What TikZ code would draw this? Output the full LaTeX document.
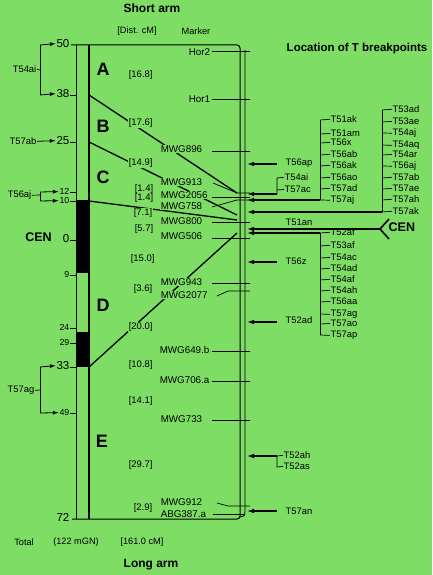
\documentclass[tikz,border=0pt]{standalone}
\usepackage{fontspec}
\setmainfont{Liberation Sans}
\usetikzlibrary{arrows.meta}
\definecolor{bg}{RGB}{125,221,100}
\tikzset{
 mk/.style={anchor=mid west, inner sep=0.6pt, fill=bg, font=\fontsize{9.8}{10}\selectfont},
 dl/.style={anchor=mid west, inner sep=0.6pt, fill=bg, font=\fontsize{9.5}{10}\selectfont},
 tl/.style={anchor=mid west, inner sep=0.5pt, font=\fontsize{9.4}{10}\selectfont},
 tr/.style={anchor=mid east, inner sep=0.5pt, font=\fontsize{9.4}{10}\selectfont},
 nb/.style={anchor=mid east, inner sep=0.5pt, font=\fontsize{11.5}{12}\selectfont},
 ns/.style={anchor=mid east, inner sep=0.5pt, font=\fontsize{8.8}{9}\selectfont},
 hd/.style={inner sep=0.5pt, font=\fontsize{9.2}{10}\selectfont},
 bhd/.style={inner sep=0.5pt, font=\fontsize{12}{12}\selectfont\bfseries},
 reg/.style={inner sep=0pt, font=\fontsize{18}{18}\selectfont\bfseries},
 seg/.style={line width=1.3pt},
 thn/.style={line width=0.7pt},
 arr/.style={line width=1.2pt, -{Latex[length=7pt,width=4.5pt]}},
 larr/.style={line width=0.8pt, -{Latex[length=6pt,width=4pt]}},
}
\begin{document}
\begin{tikzpicture}[x=1pt,y=-1pt]
\fill[bg] (0,0) rectangle (432,575);
\useasboundingbox (0,0) rectangle (432,575);

% ---------- left bar ----------
\fill[black] (76,200) rectangle (89,273);
\fill[black] (76,332) rectangle (89,367);
\draw[thn] (76,45) -- (76,519);
\draw[line width=1.3pt] (89,45) -- (89,519);
\draw[line width=1pt, rounded corners=3pt] (71,45) -- (240,45) -- (240,519) -- (72,519);
\draw[line width=0.8pt] (245,50) -- (245,512) .. controls (245,516) and (243,517) .. (240,517);

% ---------- scale numbers ----------
\node[nb] (n50) at (70,45) {50};
\node[nb] (n38) at (70,95) {38};
\node[nb] (n25) at (70,142) {25};
\node[ns] (n12) at (70,192) {12};
\node[ns] (n10) at (70,201) {10};
\node[nb] (n0) at (70,240) {0};
\node[ns] (n9) at (70,275) {9};
\node[ns] (n24) at (70,328) {24};
\node[ns] (n29) at (70,343) {29};
\node[nb] (n33) at (70,367) {33};
\node[ns] (n49) at (70,413) {49};
\node[nb] (n72) at (70,519) {72};
\foreach \y in {95,142,192,201,240,275,328,343,367,413}
  \draw[thn] (70,\y) -- (76,\y);

% ---------- left T labels ----------
\node[tr] (l54ai) at (37,70) {T54ai};
\draw[thn] (l54ai.east) -- (40,70);
\draw[thn] (40,45) -- (40,95);
\draw[larr] (40,45) -- (n50.west);
\draw[larr] (40,95) -- (n38.west);
\node[tr] (l57ab) at (37,142) {T57ab};
\draw[larr] (l57ab.east) -- (n25.west);
\node[tr] (l56aj) at (32,195) {T56aj};
\draw[thn] (l56aj.east) -- (40,195);
\draw[thn] (40,192) -- (40,201);
\draw[larr] (40,192) -- (n12.west);
\draw[larr] (40,201) -- (n10.west);
\node[tr] (l57ag) at (35,390) {T57ag};
\draw[thn] (l57ag.east) -- (40,390);
\draw[thn] (40,367) -- (40,413);
\draw[larr] (40,367) -- (n33.west);
\draw[larr] (40,413) -- (n49.west);
\node[bhd, font=\fontsize{12.5}{13}\selectfont\bfseries] (cenL) at (38.5,237) {CEN};

% ---------- region letters ----------
\node[reg] (rA) at (103,69) {A};
\node[reg] (rB) at (103,126) {B};
\node[reg] (rC) at (103,177) {C};
\node[reg] (rD) at (103,305) {D};
\node[reg] (rE) at (102,441) {E};

% ---------- headers ----------
\node[bhd] (sarm) at (152,8) {Short arm};
\node[hd] (dist) at (137,31) {[Dist. cM]};
\node[hd] (mark) at (196,31) {Marker};
\node[bhd, font=\fontsize{11.5}{12}\selectfont\bfseries] (loc) at (357,49) {Location of T breakpoints};
\node[hd] (tot) at (24,542) {Total};
\node[hd] (mgn) at (76,542) {(122 mGN)};
\node[hd] (tcm) at (142,542) {[161.0 cM]};
\node[bhd] (larm) at (151,565) {Long arm};

% ---------- marker ticks ----------
\foreach \y in {51,99,151,197,222,238,283,351,381,420}
  \draw[thn] (212,\y) -- (250,\y);
\draw[thn] (213,183) -- (237,193) -- (250,193);
\draw[thn] (212,207) -- (237,200) -- (250,200);
\draw[thn] (217,296) -- (228,291) -- (250,291);
\draw[thn] (217,503) -- (228,506) -- (250,506);
\draw[thn] (213,514) -- (245,514);

% ---------- thick connectors ----------
\coordinate (p38) at (89,95);   \coordinate (q1) at (237,193);
\coordinate (p25) at (89,142);  \coordinate (q2) at (237,215);
\coordinate (p10) at (89,201);  \coordinate (q3) at (237,220);
\coordinate (p33) at (89,367);  \coordinate (q4) at (237,233);
\draw[seg] (p38) -- (q1);
\draw[seg] (p25) -- (q2);
\draw[seg] (p10) -- (q3);
\draw[seg] (p33) -- (q4);

% ---------- interval labels ----------
\node[dl] (d1) at (128,75) {[16.8]};
\node[dl] (d2) at (128,123) {[17.6]};
\node[dl] (d3) at (128,163) {[14.9]};
\node[dl] (d4) at (134,189) {[1.4]};
\node[dl] (d5) at (134,198) {[1.4]};
\node[dl] (d6) at (133,213) {[7.1]};
\node[dl] (d7) at (134,229) {[5.7]};
\node[dl] (d8) at (130,259) {[15.0]};
\node[dl] (d9) at (133,289) {[3.6]};
\node[dl] (d10) at (128,327) {[20.0]};
\node[dl] (d11) at (128,365) {[10.8]};
\node[dl] (d12) at (128,401) {[14.1]};
\node[dl] (d13) at (128,465) {[29.7]};
\node[dl] (d14) at (133,508) {[2.9]};

% ---------- marker labels ----------
\node[mk] (hor2) at (188,53) {Hor2};
\node[mk] (hor1) at (188,100) {Hor1};
\node[mk] (m896) at (160,150) {MWG896};
\node[mk] (m913) at (160,183) {MWG913};
\node[mk] (m2056) at (160,196) {MWG2056};
\node[mk] (m758) at (160,207) {MWG758};
\node[mk] (m800) at (160,222) {MWG800};
\node[mk] (m506) at (160,237) {MWG506};
\node[mk] (m943) at (160,283) {MWG943};
\node[mk] (m2077) at (160,296) {MWG2077};
\node[mk] (m649) at (159,351) {MWG649.b};
\node[mk] (m706) at (159,381) {MWG706.a};
\node[mk] (m733) at (160,420) {MWG733};
\node[mk] (m912) at (160,503) {MWG912};
\node[mk] (a387) at (160,515) {ABG387.a};

% ---------- right breakpoints ----------
\node[tl] (t56ap) at (285,163) {T56ap};
\draw[arr] (277,164) -- (247,164);
\node[tl] (t54ai) at (284,178) {T54ai};
\node[tl] (t57ac) at (284,190) {T57ac};
\draw[thn] (t54ai.west) -- (277,178) -- (277,194);
\draw[thn] (277,190) -- (t57ac.west);
\draw[arr] (277,194) -- (247,194);

\foreach \t/\y [count=\i] in {T51ak/120,T51am/134,T56x/143,T56ab/155,T56ak/166,T56ao/178,T57ad/189,T57aj/200}{
  \node[tl] (ga\i) at (330,\y) {\t};
  \draw[thn] (320,\y) -- (ga\i.west);
}
\draw[thn] (320,120) -- (320,200);
\draw[arr] (320,200) -- (247,200);

\foreach \t/\y [count=\i] in {T53ad/110,T53ae/122,T54aj/133,T54aq/145,T54ar/155,T56aj/166,T57ab/178,T57ae/189,T57ah/200,T57ak/212}{
  \node[tl] (gb\i) at (392,\y) {\t};
  \draw[thn] (382,\y) -- (gb\i.west);
}
\draw[thn] (382,110) -- (382,212);
\draw[arr] (382,212) -- (247,212);

\node[tl] (t51an) at (285,223) {T51an};
\coordinate (cenTip) at (380,229);
\draw[arr] (cenTip) -- (247,229);
\draw[line width=1.6pt] (389,219) -- (cenTip) -- (389,239);
\node[bhd, font=\fontsize{12.5}{13}\selectfont\bfseries, anchor=mid west] (cenR) at (388,229) {CEN};

\foreach \t/\y [count=\i] in {T52af/233,T53af/246,T54ac/258,T54ad/269,T54af/280,T54ah/291,T56aa/302,T57ag/314,T57ao/324,T57ap/335}{
  \node[tl] (gc\i) at (330,\y) {\t};
  \draw[thn] (320,\y) -- (gc\i.west);
}
\draw[thn] (320,233) -- (320,335);
\draw[arr] (320,233) -- (247,233);

\node[tl] (t56z) at (285,262) {T56z};
\draw[arr] (277,262) -- (247,262);
\node[tl] (t52ad) at (285,321) {T52ad};
\draw[arr] (277,322) -- (247,322);
\node[tl] (t52ah) at (283,456) {T52ah};
\node[tl] (t52as) at (283,467) {T52as};
\draw[thn] (277,456) -- (277,467) -- (t52as.west);
\draw[thn] (277,456) -- (t52ah.west);
\draw[arr] (277,456) -- (247,456);
\node[tl] (t57an) at (285,512) {T57an};
\draw[arr] (277,511) -- (247,511);
\end{tikzpicture}
\end{document}
